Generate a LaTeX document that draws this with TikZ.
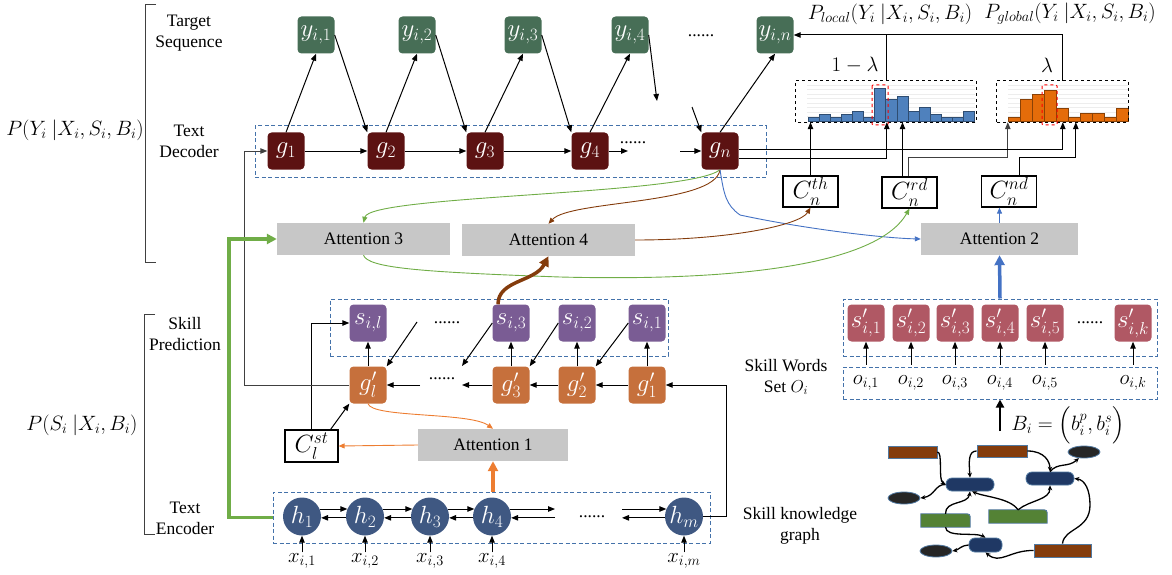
\documentclass[tikz,border=0pt]{standalone}
\usepackage{amsmath, fontspec}
\setmainfont{Liberation Serif}
\usetikzlibrary{arrows.meta, calc, shapes.geometric}

\definecolor{ygreen}{RGB}{71,110,86}
\definecolor{gred}{RGB}{92,18,18}
\definecolor{spurple}{RGB}{122,92,148}
\definecolor{gorange}{RGB}{198,112,60}
\definecolor{hnavy}{RGB}{63,88,130}
\definecolor{srose}{RGB}{176,88,100}
\definecolor{attgray}{RGB}{199,199,199}
\definecolor{dashblue}{RGB}{68,114,170}
\definecolor{lgreen}{RGB}{112,173,71}
\definecolor{lbrown}{RGB}{132,60,12}
\definecolor{lblue}{RGB}{68,114,196}
\definecolor{lorange}{RGB}{237,125,49}
\definecolor{barblue}{RGB}{79,129,189}
\definecolor{barorange}{RGB}{228,108,10}
\definecolor{kgnavy}{RGB}{31,56,100}
\definecolor{kggreen}{RGB}{84,130,53}
\definecolor{kgdark}{RGB}{38,38,38}
\definecolor{kgline}{RGB}{80,120,160}

\tikzset{
  blk/.style={rounded corners=4pt, minimum width=37pt, minimum height=37pt, inner sep=0pt, text=white, font=\fontsize{24.5}{24.5}\selectfont},
  ybox/.style={blk, fill=ygreen},
  gbox/.style={blk, fill=gred},
  sbox/.style={blk, fill=spurple},
  gpbox/.style={blk, fill=gorange},
  spbox/.style={blk, fill=srose},
  hnode/.style={circle, fill=hnavy, minimum size=38pt, inner sep=0pt, text=white, font=\fontsize{24.5}{24.5}\selectfont},
  att/.style={fill=attgray, minimum height=32pt, inner sep=0pt, font=\fontsize{17.5}{21}\selectfont},
  cbox/.style={draw, line width=1.2pt, minimum width=55pt, minimum height=31pt, inner sep=0pt, font=\fontsize{24}{24}\selectfont},
  lab/.style={font=\fontsize{17.5}{21}\selectfont, align=center},
  mlab/.style={font=\fontsize{20}{20}\selectfont, inner sep=1pt},
  grp/.style={draw=dashblue, dash pattern=on 4pt off 2.5pt, line width=1pt, inner sep=0pt},
  dots/.style={font=\fontsize{17.5}{21}\selectfont, inner sep=0pt},
  arr/.style={-{Triangle[length=7pt,width=5.5pt]}, line width=1pt},
  sarr/.style={-{Triangle[length=6pt,width=5pt]}, line width=0.9pt},
  fat/.style={-{Triangle[length=10pt,width=10pt]}, line width=3.5pt},
  kgbox/.style={draw=kgline, line width=0.8pt, inner sep=0pt},
  kgell/.style={ellipse, fill=kgdark, draw=kgline, line width=0.8pt, minimum width=32pt, minimum height=12pt, inner sep=0pt},
  kgarr/.style={-{Stealth[length=5pt,width=4.5pt]}, line width=1.3pt}
}

\begin{document}
\begin{tikzpicture}[x=1pt, y=-1pt]
\useasboundingbox (0,0) rectangle (1172,575);

% brackets and side labels
\draw[line width=1pt, black!75] (156,5) -- (145,5) -- (145,262) -- (156,262);
\draw[line width=1pt, black!75] (155,314) -- (144,314) -- (144,534) -- (155,534);
\node[mlab] (pdec) at (75,130) {$P(Y_i\ |X_i,S_i,B_i)$};
\node[mlab] (penc) at (82,425) {$P(S_i\ |X_i,B_i)$};
\node[lab] (ltgt) at (189,33) {Target\\Sequence};
\node[lab] (ldec) at (189,141) {Text\\Decoder};
\node[lab] (lskp) at (185,334) {Skill\\Prediction};
\node[lab] (lenc) at (185,518) {Text\\Encoder};

% text decoder
\node[grp, minimum width=511pt, minimum height=51pt] (decbox) at (510.5,151.5) {};
\foreach \k/\gx/\yx in {1/286/316, 2/386/417, 3/485/523, 4/590/630}{
  \node[gbox] (g\k) at (\gx,151) {$g_{\k}$};
  \node[ybox] (y\k) at (\yx,35) {$y_{i,\k}$};
  \draw[arr] (g\k.north) -- (y\k.south);
}
\node[gbox] (gn) at (720,151) {$g_n$};
\node[ybox] (yn) at (775,35) {$y_{i,n}$};
\draw[arr] (gn.north) -- (yn.south);
\foreach \a/\b in {1/2, 2/3, 3/4}{
  \draw[arr] (g\a) -- (g\b);
  \draw[arr] (y\a.east) -- (g\b.north west);
}
\coordinate (ygap) at (657,101);
\coordinate (gngap) at (692,107);
\coordinate (g4end) at (628,151);
\coordinate (gnstart) at (680,151);
\draw[arr] (y4.east) -- (ygap);
\draw[arr] (gngap) -- (gn.north west);
\draw[arr] (g4) -- (g4end);
\draw[arr] (gnstart) -- (gn);
\node[dots] (ddots) at (633,143) {......};
\node[dots] (ydots) at (701,36) {......};

% attention blocks and contexts
\node[att, minimum width=173pt] (att3) at (363.5,239) {Attention 3};
\node[att, minimum width=173pt] (att4) at (548.5,240) {Attention 4};
\node[att, minimum width=157pt] (att2) at (999.5,239) {Attention 2};
\node[att, minimum width=150pt] (att1) at (493,445) {Attention 1};
\node[cbox] (cth) at (810.5,191.5) {$C_n^{th}$};
\node[cbox] (crd) at (909.5,192.5) {$C_n^{rd}$};
\node[cbox] (cnd) at (1009,191.5) {$C_n^{nd}$};
\node[cbox, minimum width=53pt, minimum height=32pt] (cst) at (311.5,446) {$C_l^{st}$};

% distributions
\node[minimum width=180pt, minimum height=41pt, inner sep=0pt] (hloc) at (886,101.5) {};
\node[minimum width=131pt, minimum height=41pt, inner sep=0pt] (hglo) at (1062.5,101.5) {};
\foreach \gy in {85,89.5,...,117}{
  \draw[black!7, line width=0.4pt] (807,\gy) -- (975,\gy);
  \draw[black!7, line width=0.4pt] (1008,\gy) -- (1128,\gy);
}
\foreach \h [count=\i from 0] in {3.7,7,3.7,7,10,3.7,33,22,25,10,14,7,3.7,3.7,10}
  \draw[fill=barblue, draw=barblue!60!black, line width=0.4pt] (807.7+11.13*\i,121) rectangle ++(11.13,-\h);
\foreach \h [count=\i from 0] in {3.7,22,27,31,13,3.7,8,8,3.7,13}
  \draw[fill=barorange, draw=barorange!60!black, line width=0.4pt] (1007.7+12.07*\i,121) rectangle ++(12.07,-\h);
\draw[dashed, line width=0.8pt] (hloc.south west) rectangle (hloc.north east);
\draw[dashed, line width=0.8pt] (hglo.south west) rectangle (hglo.north east);
\draw[red, dashed, line width=1pt, rounded corners=1pt] (872,85) rectangle (888,125);
\draw[red, dashed, line width=1pt, rounded corners=1pt] (1042,85) rectangle (1057,125);
\node[mlab] (lam1) at (855,65) {$1-\lambda$};
\node[mlab] (lam) at (1047,65) {$\lambda$};
\node[mlab] (ploc) at (890,14) {$P_{local}(Y_i\ |X_i,S_i,B_i)$};
\node[mlab] (pglo) at (1070,14) {$P_{global}(Y_i\ |X_i,S_i,B_i)$};

\draw[arr] (hloc.north) |- (yn.east);
\draw[line width=1pt] (hglo.north) |- (hloc.north |- yn.east);
\draw[arr] (cth.north) -- (cth.north |- hloc.south);
\draw[arr] ([xshift=-7pt]crd.north) -- ([xshift=-7pt]crd.north |- hloc.south);
\draw[arr, black!75] ([xshift=-1pt]crd.north) -- ++(0,-19) -| ([xshift=11pt]hglo.south west);
\draw[arr] ([xshift=10pt]cnd.north) -- ++(0,-17.5) -| ([xshift=79pt]hglo.south west);
\draw[arr] ([yshift=2pt]gn.east) -| ([xshift=66pt]hglo.south west);
\draw[arr] ([yshift=-7pt]gn.east) -| ([xshift=91pt]hloc.south west);

% attention links
\draw[sarr, lgreen] (gn.south) .. controls (690,195) and (370,195) .. (att3.north);
\draw[sarr, lbrown] (gn.south) .. controls (715,205) and (570,200) .. (att4.north);
\draw[sarr, lblue] (gn.south) .. controls (724,195) and (726,205) .. (740,215) .. controls (800,228) and (880,238) .. (att2.west);
\draw[sarr, lbrown] (att4.east) .. controls (730,240) and (800,225) .. (cth.south);
\draw[sarr, lgreen] (att3.south) .. controls (368,268) and (420,272) .. (560,277) .. controls (760,282) and (880,260) .. (crd.south);
\draw[sarr, lblue] (att2.north) -- (att2.north |- cnd.south);

% skill prediction
\node[grp, minimum width=338pt, minimum height=57pt] (sgrp) at (499,327.5) {};
\foreach \k/\sx in {1/647, 2/577, 3/511}{
  \node[sbox] (s\k) at (\sx,323) {$s_{i,\k}$};
  \node[gpbox] (gp\k) at (\sx,385) {$g'_{\k}$};
  \draw[arr] (gp\k) -- (s\k);
}
\node[sbox] (sl) at (368,323) {$s_{i,l}$};
\node[gpbox] (gpl) at (368,385) {$g'_{l}$};
\draw[arr] (gpl) -- (sl);
\draw[arr] (gp1) -- (gp2);
\draw[arr] (gp2) -- (gp3);
\draw[arr] (s1.west) -- (gp2.north east);
\draw[arr] (s2.west) -- (gp3.north east);
\coordinate (gpend) at (462,385);
\coordinate (gpstart) at (420,385);
\coordinate (send) at (462,366);
\coordinate (sstart) at (417,322);
\draw[arr] (gp3) -- (gpend);
\draw[arr] (gpstart) -- (gpl);
\draw[arr] (s3.west) -- (send);
\draw[arr] (sstart) -- (gpl.north east);
\node[dots] (gpdots) at (442,379) {......};
\node[dots] (sdots) at (447,323) {......};
\draw[fat, lbrown] ([xshift=-13pt]s3.north) .. controls (498,280) and (535,282) .. (att4.south);

\draw[arr] (cst.north) |- (sl.west);
\draw[arr] ([xshift=-8pt]cst.north east) -- (gpl.south west);
\draw[sarr, lorange] (att1.west) -- (cst.east);
\draw[sarr, lorange] (gpl.south) .. controls (372,418) and (470,412) .. (att1.north);
\draw[arr, black!75] (gpl.west) -| ([xshift=-23pt]g1.west) -- (g1.west);

% text encoder
\node[grp, minimum width=437pt, minimum height=51pt] (encbox) at (491.5,517.5) {};
\foreach \k/\hx in {1/302, 2/365, 3/430, 4/492}{
  \node[hnode] (h\k) at (\hx,516.5) {$h_{\k}$};
  \node[mlab] (x\k) at (\hx,561) {$x_{i,\k}$};
  \draw[arr] (x\k) -- (h\k);
}
\node[hnode] (hm) at (684,516.5) {$h_m$};
\node[mlab] (xm) at (684,561) {$x_{i,m}$};
\draw[arr] (xm) -- (hm);
\foreach \a/\b in {1/2, 2/3, 3/4}{
  \draw[arr] (h\a.23) -- (h\b.157);
  \draw[arr] (h\b.184) -- (h\a.-4);
}
\coordinate (hr) at (555,512);
\coordinate (hl) at (622,512);
\draw[arr] (h4.23) -- (h4.23 -| hr);
\draw[arr] (h4.-4 -| hr) -- (h4.-4);
\draw[arr] (hm.157 -| hl) -- (hm.157);
\draw[arr] (hm.184) -- (hm.184 -| hl);
\node[dots] (hdots) at (592,517) {......};
\draw[arr] (hm.east) -| ([xshift=61pt]gp1.east) -- (gp1.east);
\draw[fat, lorange] (att1.south |- encbox.north) -- (att1.south);
\draw[fat, lgreen] (encbox.west) -| ([xshift=-48pt]att3.west) -- (att3.west);

% skill words
\node[grp, minimum width=314pt, minimum height=57pt] (spgrp) at (1000,327.5) {};
\node[grp, minimum width=314pt, minimum height=32pt] (ogrp) at (1000,383) {};
\foreach \k/\ox in {1/866, 2/911, 3/955, 4/1000, 5/1045, k/1133}{
  \node[spbox] (sp\k) at (\ox,323) {$s'_{i,\k}$};
  \node[mlab] (o\k) at (\ox,383) {$o_{i,\k}$};
  \draw[arr] ([yshift=2pt]o\k |- ogrp.north) -- (sp\k);
}
\node[dots] (spdots) at (1090,323) {......};
\draw[fat, lblue] (spgrp.north) -- (att2.south);
\node[lab] (lsw) at (786,377) {Skill Words\\Set $O_i$};
\node[lab] (lkg) at (800,526) {Skill knowledge\\graph};
\node[mlab] (bdef) at (1068,425) {$B_i=\Bigl(b_i^p,b_i^s\Bigr)$};

% skill knowledge graph
\node[kgbox, fill=lbrown, minimum width=49pt, minimum height=12pt] (kga) at (912.5,452) {};
\node[kgbox, fill=lbrown, minimum width=50pt, minimum height=12pt] (kgb) at (1002,451) {};
\node[kgbox, fill=lbrown, minimum width=57pt, minimum height=13pt] (kgh) at (1062.5,550.5) {};
\node[kgbox, fill=kgnavy, rounded corners=6pt, minimum width=48pt, minimum height=13pt] (kgc) at (970,484.5) {};
\node[kgbox, fill=kgnavy, rounded corners=6pt, minimum width=48pt, minimum height=13pt] (kgd) at (1050,478.5) {};
\node[kgbox, fill=kgnavy, rounded corners=6pt, minimum width=33pt, minimum height=14pt] (kgg) at (985.5,545) {};
\node[minimum width=49pt, minimum height=13pt, inner sep=0pt] (kge) at (945.5,520.5) {};
\node[minimum width=58pt, minimum height=13pt, inner sep=0pt] (kgf) at (1018,516.5) {};
\foreach \n in {kge, kgf}
  \filldraw[fill=kggreen, draw=kgline, line width=0.8pt] (\n.south west) -- (\n.north west) -- ([xshift=-6pt]\n.north east) .. controls (\n.north east) .. ([yshift=-6pt]\n.north east) -- (\n.south east) -- cycle;
\node[kgell] (kgo1) at (1084,452) {};
\node[kgell] (kgo2) at (904,498) {};
\node[kgell] (kgo3) at (936,551) {};
\coordinate (kgtop) at (1000,431);
\draw[-{Triangle[length=8pt,width=8pt]}, line width=2.5pt] (kgtop) -- (ogrp.south);

\draw[kgarr] (kga.east) .. controls (943,452) and (938,480) .. (kgc.west);
\draw[kgarr] (kgb.west) .. controls (968,451) and (969,462) .. (kgc.north);
\draw[kgarr] (kgb.east) .. controls (1045,451) and (1050,462) .. (kgd.north);
\draw[kgarr] (kgd.north) .. controls (1058,462) and (1068,468) .. (kgo1.230);
\draw[kgarr] (kgc.west) .. controls (935,484) and (935,496) .. (kgo2.east);
\draw[kgarr] (kge.north) .. controls (945,500) and (968,505) .. (kgc.south);
\draw[kgarr] (kgf.north) .. controls (1010,498) and (985,497) .. ([xshift=2pt]kgc.south);
\draw[kgarr] (kgf.north) .. controls (1030,500) and (1050,500) .. (kgd.south);
\draw[kgarr] (kge.south) .. controls (946,538) and (975,532) .. (kgg.north);
\draw[kgarr] (kgg.west) .. controls (962,545) and (958,550) .. (kgo3.east);
\draw[kgarr] (kgh.west) .. controls (1010,550) and (1000,565) .. (kgg.south);
\draw[kgarr] (kgh.north) .. controls (1064,528) and (1090,530) .. (1090,505) .. controls (1090,490) and (1085,480) .. (kgd.east);
\end{tikzpicture}
\end{document}
